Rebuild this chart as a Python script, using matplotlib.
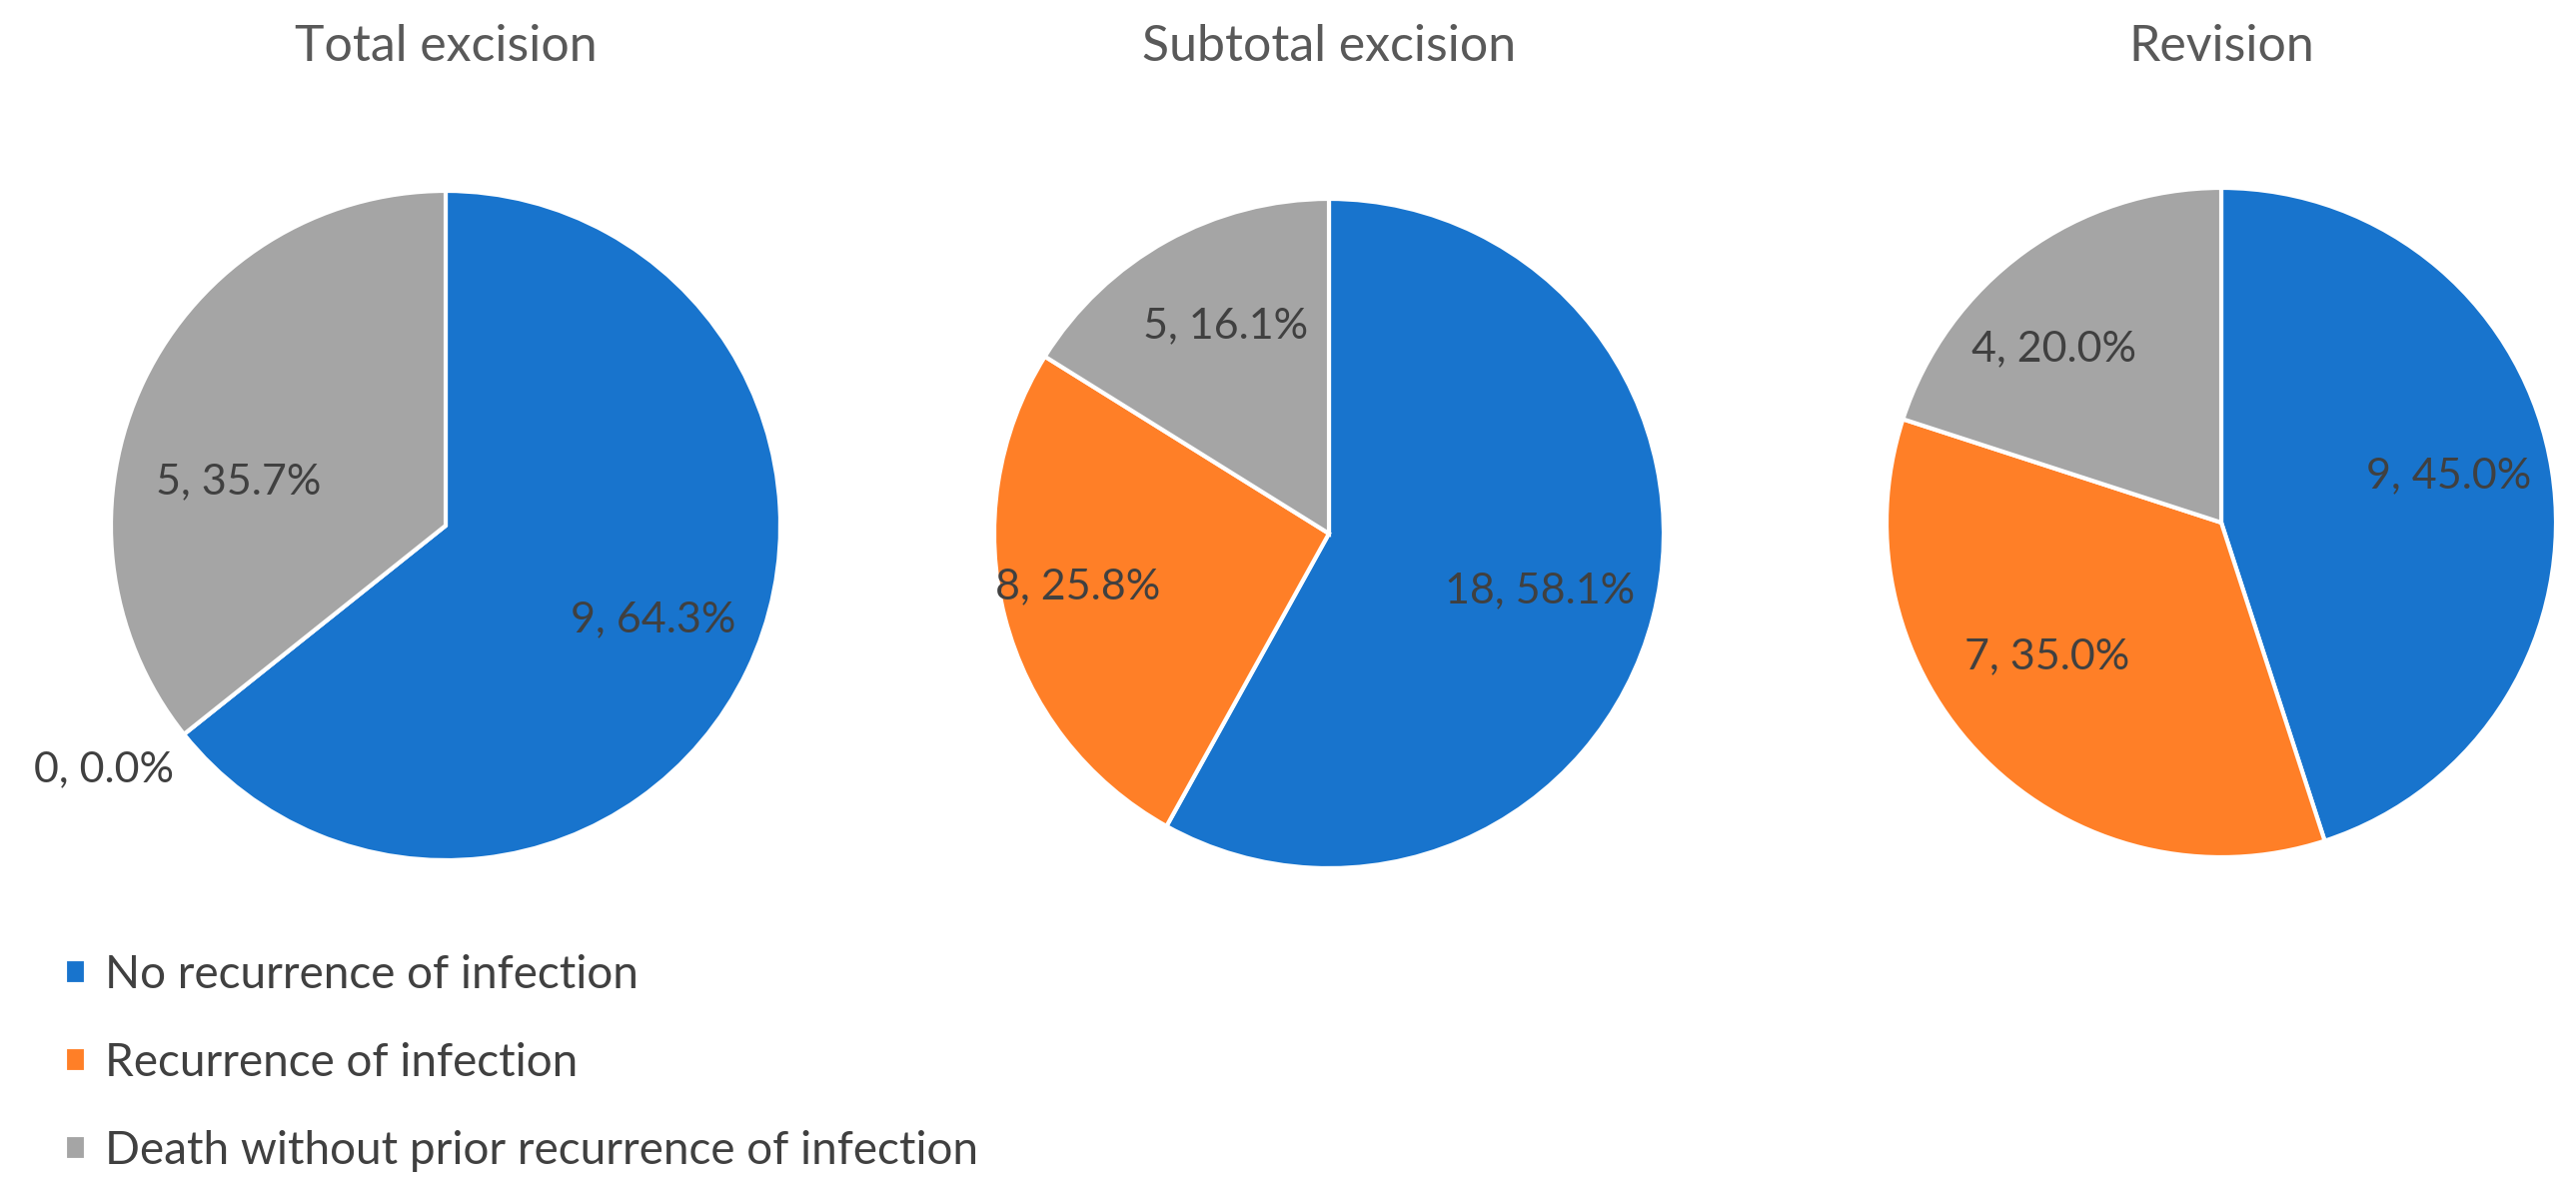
import matplotlib
matplotlib.use("Agg")
import matplotlib.pyplot as plt

# data
categories = ['No recurrence of infection', 'Recurrence of infection',
              'Death without prior recurrence of infection']
titles = ['Total excision', 'Subtotal excision', 'Revision']
total_excision = [9, 0, 5]
subtotal_excision = [18, 8, 5]
revision = [9, 7, 4]

colors = ['#1874CD', '#FF7F27', '#A5A5A5']

# label placement (in units of pie radius), one per wedge
label_pos = [
    [(0.62, -0.28), (-1.02, -0.73), (-0.62, 0.13)],
    [(0.63, -0.17), (-0.75, -0.16), (-0.31, 0.62)],
    [(0.68, 0.14), (-0.52, -0.40), (-0.50, 0.52)],
]

W, H = 2578, 1192
fig = plt.figure(figsize=(W / 100, H / 100), dpi=100)
plt.rcParams['font.family'] = ['Lato', 'DejaVu Sans']

centers = [(446, 526), (1330, 534), (2223, 523)]
R = 335
L = 1.45

wedges_first = None
for i, vals in enumerate([total_excision, subtotal_excision, revision]):
    cx, cy = centers[i]
    ax = fig.add_axes([(cx - R * L) / W, 1 - (cy + R * L) / H,
                       2 * R * L / W, 2 * R * L / H])
    wedges, _ = ax.pie(vals, colors=colors, startangle=90, counterclock=False,
                       radius=1, wedgeprops=dict(edgecolor='white', linewidth=3))
    if wedges_first is None:
        wedges_first = wedges
    tot = sum(vals)
    for j, v in enumerate(vals):
        x, y = label_pos[i][j]
        ax.text(x, y, f'{v}, {100 * v / tot:.1f}%', ha='center', va='center',
                fontsize=31, color='#404040')
    ax.set_xlim(-L, L)
    ax.set_ylim(-L, L)
    ax.set_aspect('equal')
    ax.axis('off')
    fig.text(cx / W, 1 - 47 / H, titles[i], ha='center', va='center',
             fontsize=36, color='#595959')

fig.legend(wedges_first, categories, loc='upper left',
           bbox_to_anchor=(24 / W, 1 - 914 / H), frameon=False,
           fontsize=33, labelcolor='#404040', handlelength=0.46,
           handleheight=0.46, handletextpad=0.4, labelspacing=1.0)

fig.savefig('out.png', dpi=100)
